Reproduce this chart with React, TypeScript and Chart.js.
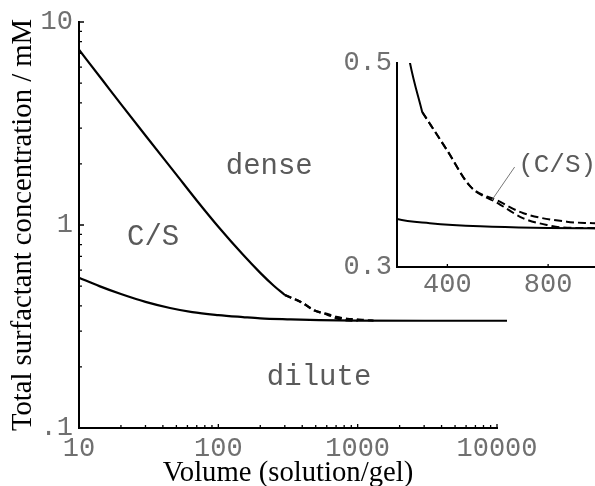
import React, { useEffect, useRef } from 'react';
import { Chart, registerables } from 'chart.js';

Chart.register(...registerables);

// ---- data (volume ratio V, total surfactant concentration C in mM) ----
const upperSolidV = [10, 15, 20, 30, 50, 70, 100, 150, 200, 250, 300];
const upperSolidC = [7.3, 5.09, 3.94, 2.76, 1.77, 1.32, 0.98, 0.715, 0.581, 0.502, 0.452];

const dashAV = [300, 400, 491, 600, 702, 874, 986, 1150, 1300];
const dashAC = [0.452, 0.414, 0.379, 0.365, 0.3527, 0.3444, 0.3428, 0.34, 0.338];

const dashBV = [300, 400, 491, 600, 702, 795, 848, 1000];
const dashBC = [0.452, 0.414, 0.379, 0.3627, 0.3477, 0.3412, 0.3389, 0.338];

const lowerV = [10, 14, 20, 30, 45, 65, 100, 150, 200, 330, 530, 1000, 3000, 11800];
const lowerC = [0.55, 0.5, 0.457, 0.418, 0.39, 0.372, 0.36, 0.352, 0.347, 0.343, 0.34, 0.338, 0.3375, 0.3375];

// ---- ticks ----
const xTickValues = [10, 100, 1000, 10000];
const xTickLabels = ['10', '100', '1000', '10000'];
const yTickValues = [0.1, 1, 10];
const yTickLabels = ['.1', '1', '10'];
const xMinorTicks = [20, 30, 40, 50, 60, 70, 80, 90, 200, 300, 400, 500, 600, 700, 800, 900, 2000, 3000, 4000, 5000, 6000, 7000, 8000, 9000];
const yMinorTicks = [0.2, 0.3, 0.4, 0.5, 0.6, 0.7, 0.8, 0.9, 2, 3, 4, 5, 6, 7, 8, 9];

const insetXTickValues = [400, 800];
const insetXTickLabels = ['400', '800'];
const insetYTickValues = [0.3, 0.5];
const insetYTickLabels = ['0.3', '0.5'];

// ---- annotations (data coordinates) ----
const mainLabels = [
  { text: 'dense', v: 113, c: 1.78 },
  { text: 'C/S', v: 22.1, c: 0.8 },
  { text: 'dilute', v: 223, c: 0.163 },
];
const insetLabel = { text: '(C/S)', v: 681, c: 0.393 };
const insetLeader = { v1: 667, c1: 0.398, v2: 577, c2: 0.3657 };

const xy = (xs: number[], ys: number[]) => xs.map((x, i) => ({ x, y: ys[i] }));

const MONO = "'Liberation Mono', 'DejaVu Sans Mono', monospace";
const SERIF = "'Liberation Serif', 'DejaVu Serif', serif";
const TICK_COLOR = '#707070';
const TEXT_COLOR = '#5a5a5a';
const TICK_SIZE = 27;

function lineDs(xs: number[], ys: number[], dashed: boolean, width: number, clip: boolean) {
  return {
    data: xy(xs, ys),
    showLine: true,
    borderColor: '#000',
    borderWidth: width,
    borderDash: dashed ? [7, 4] : [],
    pointRadius: 0,
    cubicInterpolationMode: 'monotone' as const,
    clip: clip ? undefined : false,
  };
}

const mainTicksPlugin = {
  id: 'mainTicks',
  afterDatasetsDraw(chart: any) {
    const { ctx, scales, chartArea } = chart;
    const x = scales.x, y = scales.y;
    ctx.save();
    ctx.strokeStyle = '#000';
    ctx.lineWidth = 1.3;
    ctx.beginPath();
    xMinorTicks.forEach((v) => {
      const p = x.getPixelForValue(v);
      ctx.moveTo(p, chartArea.bottom);
      ctx.lineTo(p, chartArea.bottom - 3);
    });
    xTickValues.forEach((v) => {
      const p = x.getPixelForValue(v);
      ctx.moveTo(p, chartArea.bottom);
      ctx.lineTo(p, chartArea.bottom - 4);
    });
    yMinorTicks.forEach((v) => {
      const p = y.getPixelForValue(v);
      ctx.moveTo(chartArea.left, p);
      ctx.lineTo(chartArea.left + 3, p);
    });
    yTickValues.forEach((v) => {
      const p = y.getPixelForValue(v);
      ctx.moveTo(chartArea.left, p);
      ctx.lineTo(chartArea.left + 5, p);
    });
    ctx.stroke();

    ctx.fillStyle = TEXT_COLOR;
    ctx.font = `29px ${MONO}`;
    ctx.textAlign = 'left';
    ctx.textBaseline = 'alphabetic';
    mainLabels.forEach((l) => {
      ctx.fillText(l.text, x.getPixelForValue(l.v), y.getPixelForValue(l.c));
    });
    ctx.restore();
  },
};

const insetPlugin = {
  id: 'insetExtras',
  afterDatasetsDraw(chart: any) {
    const { ctx, scales, chartArea } = chart;
    const x = scales.x, y = scales.y;
    ctx.save();
    ctx.strokeStyle = '#000';
    ctx.lineWidth = 1.3;
    ctx.beginPath();
    insetXTickValues.forEach((v) => {
      const p = x.getPixelForValue(v);
      ctx.moveTo(p, chartArea.bottom);
      ctx.lineTo(p, chartArea.bottom - 3);
    });
    ctx.stroke();

    ctx.strokeStyle = '#777';
    ctx.lineWidth = 1;
    ctx.beginPath();
    ctx.moveTo(x.getPixelForValue(insetLeader.v1), y.getPixelForValue(insetLeader.c1));
    ctx.lineTo(x.getPixelForValue(insetLeader.v2), y.getPixelForValue(insetLeader.c2));
    ctx.stroke();

    ctx.fillStyle = TEXT_COLOR;
    ctx.font = `26px ${MONO}`;
    ctx.textAlign = 'left';
    ctx.textBaseline = 'alphabetic';
    ctx.fillText(insetLabel.text, x.getPixelForValue(insetLabel.v), y.getPixelForValue(insetLabel.c));
    ctx.restore();
  },
};

function MainChart() {
  const ref = useRef<HTMLCanvasElement>(null);
  useEffect(() => {
    const chart = new Chart(ref.current as HTMLCanvasElement, {
      type: 'scatter',
      data: {
        datasets: [
          lineDs(lowerV, lowerC, false, 2.2, false),
          lineDs(upperSolidV, upperSolidC, false, 2.2, true),
          lineDs(dashAV, dashAC, true, 2.2, true),
          lineDs(dashBV, dashBC, true, 2.2, true),
        ] as any,
      },
      options: {
        animation: false,
        responsive: false,
        devicePixelRatio: 1,
        layout: { padding: { left: 0, top: 22, right: 98, bottom: 0 } },
        plugins: { legend: { display: false }, tooltip: { enabled: false } },
        scales: {
          x: {
            type: 'logarithmic',
            position: 'bottom',
            min: 10,
            max: 10000,
            grid: { display: false, drawTicks: false },
            border: { display: true, color: '#000', width: 2 },
            ticks: {
              autoSkip: false,
              maxRotation: 0,
              padding: 7,
              color: TICK_COLOR,
              font: { family: MONO, size: TICK_SIZE, lineHeight: 1 },
              callback: (_v: any, i: number) => xTickLabels[i],
            },
            afterBuildTicks: (s: any) => {
              s.ticks = xTickValues.map((v) => ({ value: v }));
            },
            afterFit: (s: any) => {
              s.height = 58;
            },
            title: {
              display: true,
              text: 'Volume (solution/gel)',
              color: '#000',
              font: { family: SERIF, size: 28.7, lineHeight: 1 },
              padding: { top: 0, bottom: -2 },
            },
          },
          y: {
            type: 'logarithmic',
            position: 'left',
            min: 0.1,
            max: 10,
            grid: { display: false, drawTicks: false },
            border: { display: true, color: '#000', width: 2 },
            ticks: {
              autoSkip: false,
              padding: 6,
              color: TICK_COLOR,
              font: { family: MONO, size: TICK_SIZE, lineHeight: 1 },
              callback: (_v: any, i: number) => yTickLabels[i],
            },
            afterBuildTicks: (s: any) => {
              s.ticks = yTickValues.map((v) => ({ value: v }));
            },
            afterFit: (s: any) => {
              s.width = 79;
            },
            title: {
              display: true,
              text: 'Total surfactant concentration / mM',
              color: '#000',
              font: { family: SERIF, size: 28.7, lineHeight: 1 },
              padding: { top: 9, bottom: 0 },
            },
          },
        },
      } as any,
      plugins: [mainTicksPlugin],
    });
    return () => chart.destroy();
  }, []);
  return (
    <canvas
      ref={ref}
      width={595}
      height={486}
      style={{ position: 'absolute', left: 0, top: 0, width: 595, height: 486 }}
    />
  );
}

function InsetChart() {
  const ref = useRef<HTMLCanvasElement>(null);
  useEffect(() => {
    const chart = new Chart(ref.current as HTMLCanvasElement, {
      type: 'scatter',
      data: {
        datasets: [
          lineDs(lowerV, lowerC, false, 2, true),
          lineDs(upperSolidV, upperSolidC, false, 2, true),
          { ...lineDs(dashAV, dashAC, true, 2, true), borderDash: [8, 4] },
          { ...lineDs(dashBV, dashBC, true, 2, true), borderDash: [8, 4] },
        ] as any,
      },
      options: {
        animation: false,
        responsive: false,
        devicePixelRatio: 1,
        layout: { padding: { left: 0, top: 23, right: 21.5, bottom: 0 } },
        plugins: { legend: { display: false }, tooltip: { enabled: false } },
        scales: {
          x: {
            type: 'linear',
            position: 'bottom',
            min: 200,
            max: 1000,
            grid: { display: false, drawTicks: false },
            border: { display: true, color: '#000', width: 2 },
            ticks: {
              autoSkip: false,
              maxRotation: 0,
              padding: 4,
              color: TICK_COLOR,
              font: { family: MONO, size: TICK_SIZE, lineHeight: 1 },
              callback: (_v: any, i: number) => insetXTickLabels[i],
            },
            afterBuildTicks: (s: any) => {
              s.ticks = insetXTickValues.map((v) => ({ value: v }));
            },
            afterFit: (s: any) => {
              s.height = 33;
            },
          },
          y: {
            type: 'linear',
            position: 'left',
            min: 0.3,
            max: 0.5,
            grid: { display: false, drawTicks: false },
            border: { display: true, color: '#000', width: 2 },
            ticks: {
              autoSkip: false,
              padding: 5,
              color: TICK_COLOR,
              font: { family: MONO, size: TICK_SIZE, lineHeight: 1 },
              callback: (_v: any, i: number) => insetYTickLabels[i],
            },
            afterBuildTicks: (s: any) => {
              s.ticks = insetYTickValues.map((v) => ({ value: v }));
            },
            afterFit: (s: any) => {
              s.width = 67;
            },
          },
        },
      } as any,
      plugins: [insetPlugin],
    });
    return () => chart.destroy();
  }, []);
  return (
    <canvas
      ref={ref}
      width={290}
      height={260}
      style={{ position: 'absolute', left: 330, top: 40, width: 290, height: 260 }}
    />
  );
}

export default function App() {
  return (
    <div
      style={{
        position: 'absolute',
        left: 0,
        top: 0,
        width: 595,
        height: 486,
        overflow: 'hidden',
        background: '#fff',
      }}
    >
      <MainChart />
      <InsetChart />
    </div>
  );
}
